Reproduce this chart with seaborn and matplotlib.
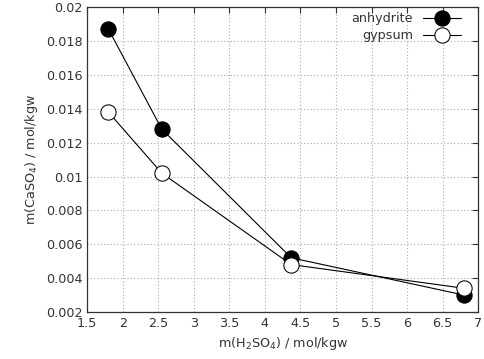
import numpy as np
import pandas as pd
import matplotlib
matplotlib.use("Agg")
import matplotlib.pyplot as plt
import seaborn as sns

# data
h2so4 = [1.8, 2.55, 4.37, 6.8]
anhydrite = [0.0187, 0.0128, 0.0052, 0.0030]
gypsum = [0.0138, 0.0102, 0.0048, 0.0034]

df = pd.DataFrame({
    "h2so4": h2so4 * 2,
    "caso4": anhydrite + gypsum,
    "mineral": ["anhydrite"] * 4 + ["gypsum"] * 4,
})

sns.set_style("white")
plt.rcParams["font.family"] = ["DejaVu Sans"]
plt.rcParams["font.size"] = 9.2

fig = plt.figure(figsize=(4.84, 3.59), dpi=100)
ax = fig.add_axes([0.18, 0.131, 0.808, 0.849])

sns.lineplot(data=df[df.mineral == "anhydrite"], x="h2so4", y="caso4",
             ax=ax, color="black", lw=0.8, marker="o", markersize=11,
             markerfacecolor="black", markeredgecolor="black",
             label="anhydrite", sort=False)
sns.lineplot(data=df[df.mineral == "gypsum"], x="h2so4", y="caso4",
             ax=ax, color="black", lw=0.8, marker="o", markersize=11,
             markerfacecolor="white", markeredgecolor="black",
             label="gypsum", sort=False)

ax.set_xlim(1.5, 7)
ax.set_ylim(0.002, 0.02)
ax.set_xticks(np.arange(1.5, 7.01, 0.5))
ax.set_xticklabels(["1.5", "2", "2.5", "3", "3.5", "4", "4.5", "5", "5.5", "6", "6.5", "7"])
ax.set_yticks(np.arange(0.002, 0.0201, 0.002))
ax.set_yticklabels(["0.002", "0.004", "0.006", "0.008", "0.01", "0.012",
                    "0.014", "0.016", "0.018", "0.02"])
ax.grid(True, color="#aaaaaa", linestyle=(0, (1, 2)), lw=0.8)
ax.tick_params(direction="in", top=True, right=True, length=4,
               colors="#333333", labelcolor="#333333")
for s in ax.spines.values():
    s.set_color("#333333")
    s.set_linewidth(0.9)

ax.set_xlabel("m(H$_2$SO$_4$) / mol/kgw", color="#333333")
ax.set_ylabel("m(CaSO$_4$) / mol/kgw", color="#333333")

leg = ax.legend(loc="upper right", frameon=False, markerfirst=False,
                handlelength=3, borderaxespad=0.0, labelspacing=0.3,
                bbox_to_anchor=(0.97, 1.0))
for t in leg.get_texts():
    t.set_color("#333333")

fig.savefig("out.png", dpi=100)
